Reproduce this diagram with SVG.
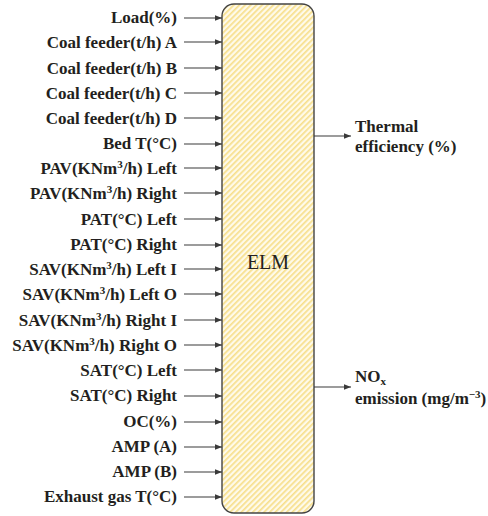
<svg xmlns="http://www.w3.org/2000/svg" width="488" height="516" viewBox="0 0 488 516">
<style>
.lbl{font-family:"Liberation Serif","Times New Roman",serif;font-weight:bold;font-size:17px;fill:#231f20;text-anchor:end}
.out{font-family:"Liberation Serif","Times New Roman",serif;font-weight:bold;font-size:17px;fill:#231f20}
.sup{font-size:11px}
.con{stroke:#3a3a3a;stroke-width:1.1;fill:none;marker-end:url(#ah)}
</style>
<defs>
<marker id="ah" viewBox="0 0 10 10" refX="10" refY="5" markerWidth="9" markerHeight="7" markerUnits="userSpaceOnUse" orient="auto">
<path d="M0,1 L10,5 L0,9 Z" fill="#3a3a3a"/>
</marker>
<pattern id="hatch" width="4" height="4" patternUnits="userSpaceOnUse" patternTransform="rotate(45)">
<rect width="4" height="4" fill="#fefaea"/>
<rect width="1.7" height="4" fill="#f7df8c"/>
</pattern>
</defs>
<g id="elm">
<rect x="222" y="4" width="92" height="509" rx="12" ry="12" fill="url(#hatch)" stroke="#444" stroke-width="1.4"/>
<text x="268" y="269" font-family="Liberation Serif,Times New Roman,serif" font-size="20" text-anchor="middle" fill="#231f20">ELM</text>
</g>
<g id="inputs">
<text class="lbl" x="177" y="23">Load(%)</text>
<text class="lbl" x="177" y="48">Coal feeder(t/h) A</text>
<text class="lbl" x="177" y="74">Coal feeder(t/h) B</text>
<text class="lbl" x="177" y="99">Coal feeder(t/h) C</text>
<text class="lbl" x="177" y="124">Coal feeder(t/h) D</text>
<text class="lbl" x="177" y="149">Bed T(°C)</text>
<text class="lbl" x="177" y="174">PAV(KNm<tspan class="sup" dy="-6">3</tspan><tspan dy="6">/h) Left</tspan></text>
<text class="lbl" x="177" y="199">PAV(KNm<tspan class="sup" dy="-6">3</tspan><tspan dy="6">/h) Right</tspan></text>
<text class="lbl" x="177" y="225">PAT(°C) Left</text>
<text class="lbl" x="177" y="250">PAT(°C) Right</text>
<text class="lbl" x="177" y="275">SAV(KNm<tspan class="sup" dy="-6">3</tspan><tspan dy="6">/h) Left I</tspan></text>
<text class="lbl" x="177" y="300">SAV(KNm<tspan class="sup" dy="-6">3</tspan><tspan dy="6">/h) Left O</tspan></text>
<text class="lbl" x="177" y="326">SAV(KNm<tspan class="sup" dy="-6">3</tspan><tspan dy="6">/h) Right I</tspan></text>
<text class="lbl" x="177" y="351">SAV(KNm<tspan class="sup" dy="-6">3</tspan><tspan dy="6">/h) Right O</tspan></text>
<text class="lbl" x="177" y="376">SAT(°C) Left</text>
<text class="lbl" x="177" y="401">SAT(°C) Right</text>
<text class="lbl" x="177" y="427">OC(%)</text>
<text class="lbl" x="177" y="452">AMP (A)</text>
<text class="lbl" x="177" y="477">AMP (B)</text>
<text class="lbl" x="177" y="502">Exhaust gas T(°C)</text>
</g>
<g id="outputs">
<text class="out" x="355" y="132">Thermal</text>
<text class="out" x="355" y="152">efficiency (%)</text>
<text class="out" x="355" y="382">NO<tspan class="sup" dy="3">x</tspan></text>
<text class="out" x="355" y="404">emission (mg/m<tspan class="sup" dy="-6">−3</tspan><tspan dy="6">)</tspan></text>
</g>
<g id="connectors">
<path class="con" d="M184,18 H222"/>
<path class="con" d="M184,42 H222"/>
<path class="con" d="M184,68 H222"/>
<path class="con" d="M184,93 H222"/>
<path class="con" d="M184,118 H222"/>
<path class="con" d="M184,144 H222"/>
<path class="con" d="M184,168 H222"/>
<path class="con" d="M184,193 H222"/>
<path class="con" d="M184,219 H222"/>
<path class="con" d="M184,245 H222"/>
<path class="con" d="M184,269 H222"/>
<path class="con" d="M184,294 H222"/>
<path class="con" d="M184,320 H222"/>
<path class="con" d="M184,345 H222"/>
<path class="con" d="M184,370 H222"/>
<path class="con" d="M184,396 H222"/>
<path class="con" d="M184,422 H222"/>
<path class="con" d="M184,447 H222"/>
<path class="con" d="M184,472 H222"/>
<path class="con" d="M184,497 H222"/>
<path class="con" d="M314,136 H351"/>
<path class="con" d="M314,387 H351"/>
</g>
</svg>
